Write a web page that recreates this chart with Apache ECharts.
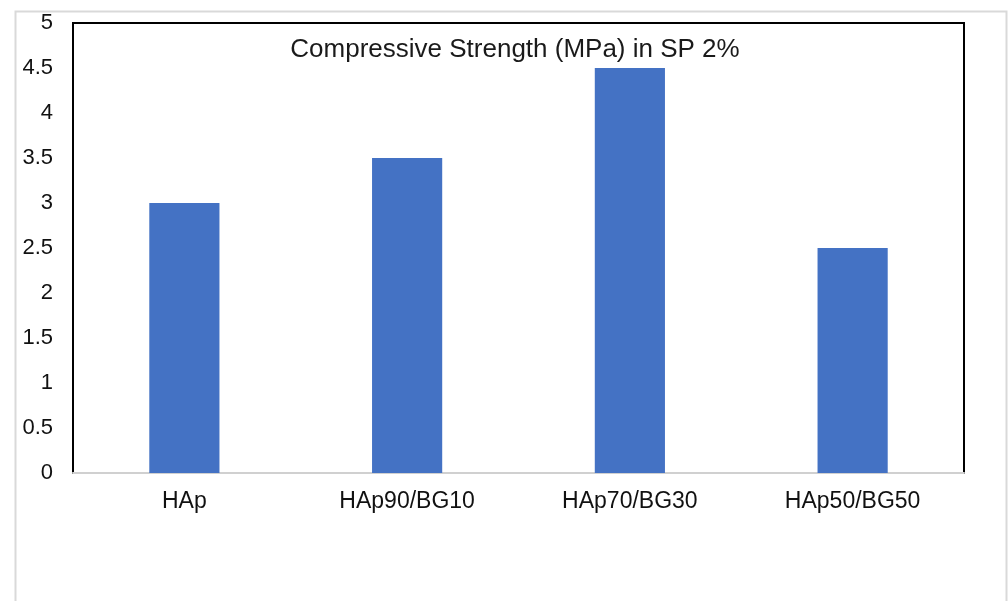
<!DOCTYPE html>
<html>
<head>
<meta charset="utf-8">
<script src="https://cdn.jsdelivr.net/npm/echarts@6/dist/echarts.min.js"></script>
<style>
  html, body { margin: 0; padding: 0; background: #fff; }
  #chart { width: 1008px; height: 601px; }
</style>
</head>
<body>
<div id="chart"></div>
<script>
const categories = ['HAp', 'HAp90/BG10', 'HAp70/BG30', 'HAp50/BG50'];
const strength = [3, 3.5, 4.5, 2.5];
const titleText = 'Compressive Strength (MPa) in SP 2%';

const chart = echarts.init(document.getElementById('chart'), null, { renderer: 'canvas' });
const font = '"Liberation Sans", Arial, sans-serif';

chart.setOption({
  animation: false,
  backgroundColor: '#fff',
  title: {
    text: titleText,
    left: 510,
    textAlign: 'center',
    top: 32,
    textStyle: { fontFamily: font, fontSize: 26, fontWeight: 'normal', color: '#1a1a1a' }
  },
  graphic: [{
    type: 'rect',
    shape: { x: 15.5, y: 11.5, width: 991, height: 620 },
    style: { fill: 'none', stroke: '#d9d9d9', lineWidth: 2 },
    silent: true,
    z: -1
  }],
  grid: {
    left: 73, right: 44, top: 23, bottom: 128,
    show: true, borderColor: '#000', borderWidth: 2, backgroundColor: '#fff'
  },
  xAxis: {
    type: 'category',
    data: categories,
    axisLine: { show: true, lineStyle: { color: '#d0d0d0', width: 2 } },
    axisTick: { show: false },
    axisLabel: { fontFamily: font, fontSize: 23, color: '#111', margin: 17 }
  },
  yAxis: {
    type: 'value',
    min: 0, max: 5, interval: 0.5,
    axisLine: { show: false },
    axisTick: { show: false },
    splitLine: { show: false },
    axisLabel: { fontFamily: font, fontSize: 22, color: '#111', margin: 20 }
  },
  series: [{
    type: 'bar',
    data: strength,
    barWidth: '31.5%',
    itemStyle: { color: '#4472c4' }
  }]
});
</script>
</body>
</html>
